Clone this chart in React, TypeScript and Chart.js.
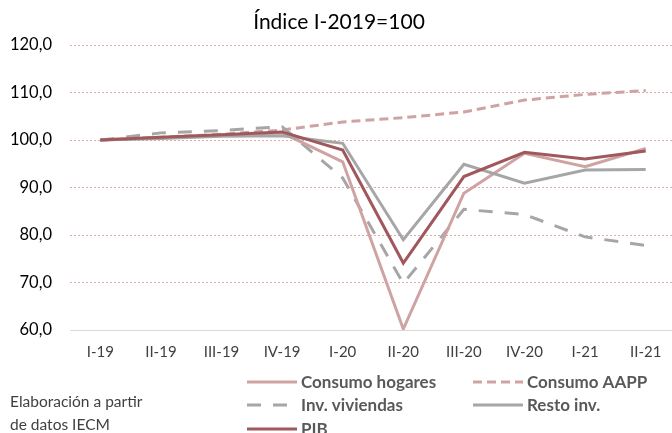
import React, { useEffect, useRef } from "react";
import { Chart, registerables } from "chart.js";

Chart.register(...registerables);

const categories = ["I-19", "II-19", "III-19", "IV-19", "I-20", "II-20", "III-20", "IV-20", "I-21", "II-21"];
const consumoHogares = [100, 100.5, 101, 101.5, 95.4, 60.2, 88.8, 97.2, 94.4, 98.2];
const consumoAAPP = [100, 100.6, 101.2, 102.1, 103.8, 104.7, 105.9, 108.4, 109.6, 110.4];
const invViviendas = [100, 101.5, 102, 102.8, 92.0, 69.8, 85.4, 84.3, 79.6, 77.8];
const restoInv = [100, 100.3, 100.8, 100.9, 99.3, 79.0, 94.9, 90.9, 93.7, 93.8];
const pib = [100, 100.6, 101.1, 101.7, 97.9, 74.1, 92.3, 97.4, 96.0, 97.7];
const yTicks = [60, 70, 80, 90, 100, 110, 120];

const FONT = "Lato, 'Open Sans', sans-serif";
const C_HOG = "rgb(207,163,163)";
const C_AAPP = "rgb(207,163,163)";
const C_VIV = "rgb(166,166,166)";
const C_RESTO = "rgb(166,166,166)";
const C_PIB = "rgb(160,88,92)";

export default function App() {
  const ref = useRef<HTMLCanvasElement | null>(null);
  useEffect(() => {
    document.body.style.margin = "0";
    const canvas = ref.current!;
    const overlay = {
      id: "overlay",
      afterDraw(chart: any) {
        const ctx = chart.ctx as CanvasRenderingContext2D;
        ctx.save();
        ctx.fillStyle = "#000";
        ctx.font = `21px ${FONT}`;
        ctx.textAlign = "center";
        ctx.textBaseline = "middle";
        ctx.fillText("Índice I-2019=100", 339, 22);

        ctx.fillStyle = "#404040";
        ctx.font = `15.5px ${FONT}`;
        ctx.textAlign = "left";
        ctx.fillText("Elaboración a partir", 10, 402);
        ctx.fillText("de datos IECM", 10, 425);

        const items = [
          { label: "Consumo hogares", color: C_HOG, dash: [] as number[], x: 247, y: 382 },
          { label: "Consumo AAPP", color: C_AAPP, dash: [9, 5], x: 473, y: 382 },
          { label: "Inv. viviendas", color: C_VIV, dash: [14, 12], x: 247, y: 405 },
          { label: "Resto inv.", color: C_RESTO, dash: [] as number[], x: 473, y: 405 },
          { label: "PIB", color: C_PIB, dash: [] as number[], x: 247, y: 429 },
        ];
        ctx.font = `bold 17px ${FONT}`;
        for (const it of items) {
          ctx.strokeStyle = it.color;
          ctx.lineWidth = 3;
          ctx.setLineDash(it.dash);
          ctx.beginPath();
          ctx.moveTo(it.x, it.y);
          ctx.lineTo(it.x + 50, it.y);
          ctx.stroke();
          ctx.setLineDash([]);
          ctx.fillStyle = "#595959";
          ctx.fillText(it.label, it.x + 54, it.y + 1);
        }
        ctx.restore();
      },
    };
    const chart = new Chart(canvas, {
      type: "line",
      data: {
        labels: categories,
        datasets: [
          { label: "Consumo hogares", data: consumoHogares, borderColor: C_HOG, borderWidth: 3, pointRadius: 0, order: 2 },
          { label: "Consumo AAPP", data: consumoAAPP, borderColor: C_AAPP, borderWidth: 3, borderDash: [9, 5], pointRadius: 0, order: 4 },
          { label: "Inv. viviendas", data: invViviendas, borderColor: C_VIV, borderWidth: 3, borderDash: [14, 12], pointRadius: 0, order: 3 },
          { label: "Resto inv.", data: restoInv, borderColor: C_RESTO, borderWidth: 3, pointRadius: 0, order: 1 },
          { label: "PIB", data: pib, borderColor: C_PIB, borderWidth: 3, pointRadius: 0, order: 0 },
        ],
      },
      options: {
        animation: false,
        responsive: false,
        maintainAspectRatio: false,
        layout: { padding: { top: 45, left: 0, right: 0, bottom: 0 } },
        plugins: { legend: { display: false }, title: { display: false }, tooltip: { enabled: false } },
        scales: {
          x: {
            offset: true,
            grid: { display: false, drawTicks: false },
            border: { display: true, color: "#D9D9D9", width: 1 },
            ticks: { color: "#404040", font: { family: FONT, size: 15 }, padding: 13, maxRotation: 0 },
            afterFit: (s: any) => { s.height = 103; },
          },
          y: {
            min: 60,
            max: 120,
            afterBuildTicks: (s: any) => { s.ticks = yTicks.map((v) => ({ value: v })); },
            grid: {
              drawTicks: false,
              color: (c: any) => (c.tick && c.tick.value === 60 ? "rgba(0,0,0,0)" : "rgb(220,170,170)"),
              lineWidth: 1,
            },
            border: { display: false, dash: [2, 2] },
            ticks: {
              color: "#000",
              font: { family: FONT, size: 16.5 },
              padding: 18,
              callback: (v: any) => Number(v).toFixed(1).replace(".", ","),
            },
            afterFit: (s: any) => { s.width = 70; },
          },
        },
      },
      plugins: [overlay],
    } as any);
    return () => chart.destroy();
  }, []);
  return (
    <div style={{ position: "fixed", left: 0, top: 0, width: 672, height: 433, overflow: "hidden", background: "#fff" }}>
      <canvas ref={ref} width={676} height={433} style={{ width: 676, height: 433, display: "block" }} />
    </div>
  );
}
